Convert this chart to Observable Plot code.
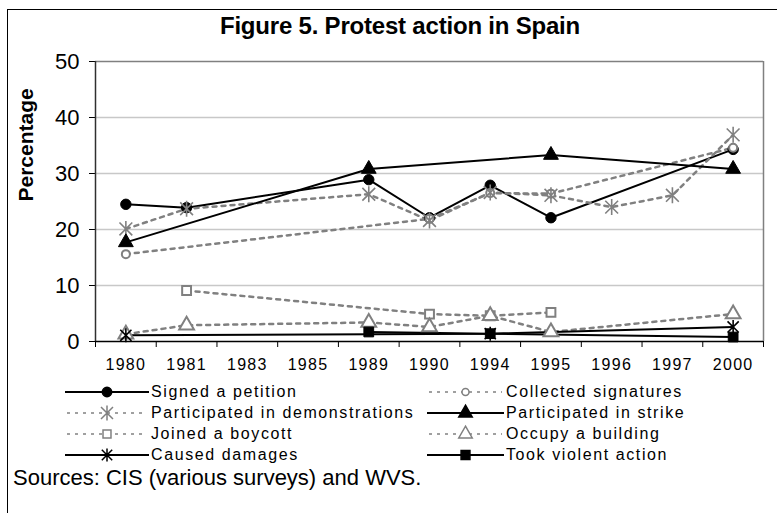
<!DOCTYPE html>
<html><head><meta charset="utf-8">
<script src="https://cdn.jsdelivr.net/npm/d3@7"></script>
<script src="https://cdn.jsdelivr.net/npm/@observablehq/plot@0.6"></script>
<style>
body{margin:0;background:#fff;font-family:"Liberation Sans",Arial,sans-serif;}
#wrap{position:relative;width:777px;height:513px;overflow:hidden;background:#fff;}
#frame{position:absolute;left:7px;top:9px;width:820px;height:620px;border:1px solid #000;box-sizing:border-box;}
#title{position:absolute;left:0;width:800px;top:12px;text-align:center;font-weight:bold;font-size:24px;letter-spacing:-0.2px;}
#chart{position:absolute;left:0;top:0;}
.leg{position:absolute;height:20px;display:flex;align-items:center;font-size:16px;letter-spacing:1.6px;white-space:nowrap;}
.leg svg{display:block;}
#source{position:absolute;left:13px;top:465px;font-size:22px;white-space:nowrap;}
</style></head><body>
<div id="wrap"><div id="frame"></div><div id="title">Figure 5. Protest action in Spain</div><div id="chart"></div><div id="legend"></div><div id="source">Sources: CIS (various surveys) and WVS.</div></div>
<script>
const years = ["1980","1981","1983","1985","1989","1990","1994","1995","1996","1997","2000"];
const yTicks = [0, 10, 20, 30, 40, 50];
const petition       = [24.5, 23.9, null, null, 28.9, 22.1, 27.9, 22.1, null, null, 34.3];
const signatures     = [15.6, null, null, null, null, 21.9, 26.5, 26.4, null, null, 34.6];
const demonstrations = [20.1, 23.7, null, null, 26.3, 21.6, 26.6, 26.1, 24.0, 26.1, 36.9];
const strike         = [17.7, null, null, null, 30.8, null, null, 33.3, null, null, 30.8];
const boycott        = [null, 9.1, null, null, null, 4.9, 4.6, 5.2, null, null, null];
const occupy         = [1.3, 2.9, null, null, 3.4, 2.6, 4.6, 1.7, null, null, 4.9];
const damages        = [1.1, null, null, null, null, null, 1.4, null, null, null, 2.6];
const violent        = [null, null, null, null, 1.7, null, 1.4, null, null, null, 0.8];
const seriesNames = ["Signed a petition","Collected signatures","Participated in demonstrations","Participated in strike","Joined a boycott","Occupy a building","Caused damages","Took violent action"];

const GRAY = "#808080", BLACK = "#000";
const star = {draw(ctx, size){ const r = Math.sqrt(size/Math.PI); const d = r*0.8;
  ctx.moveTo(0,-r); ctx.lineTo(0,r); ctx.moveTo(-d,-d); ctx.lineTo(d,d); ctx.moveTo(d,-d); ctx.lineTo(-d,d);} };

const styles = [
  {values: petition, dashed:false, color:BLACK, symbol:"circle", filled:true, r:5.2},
  {values: signatures, dashed:true, color:GRAY, symbol:"circle", filled:false, r:4},
  {values: demonstrations, dashed:true, color:GRAY, symbol:star, filled:false, r:8},
  {values: strike, dashed:false, color:BLACK, symbol:"triangle", filled:true, r:5.5},
  {values: boycott, dashed:true, color:GRAY, symbol:"square", filled:false, r:5},
  {values: occupy, dashed:true, color:GRAY, symbol:"triangle", filled:false, r:5.5},
  {values: damages, dashed:false, color:BLACK, symbol:star, filled:false, r:7},
  {values: violent, dashed:false, color:BLACK, symbol:"square", filled:true, r:5.5}
];

const marks = [
  Plot.gridY([10,20,30,40], {stroke:"#c8c8c8", strokeOpacity:1, strokeWidth:1.5}),
  Plot.ruleY([50], {stroke:"#808080", strokeWidth:1.5}),
  Plot.ruleX([10.5], {stroke:"#808080", strokeWidth:1.5}),
  Plot.axisY({ticks:yTicks, tickSize:6, tickPadding:10, fontSize:22, label:null, stroke:"#000"}),
  Plot.axisX({ticks:d3.range(12).map(i => i - 0.5), tickFormat:() => "", tickSize:6, label:null, stroke:"#000"}),
  Plot.axisX({ticks:d3.range(years.length), tickFormat:i => years[i], tickSize:0, tickPadding:17, fontSize:16, label:null}),
  Plot.ruleX([-0.5], {stroke:"#303030", strokeWidth:1.5}),
  Plot.ruleY([0], {stroke:"#000", strokeWidth:1.5}),
  Plot.text(["Percentage"], {frameAnchor:"left", rotate:-90, dx:-69, fontWeight:"bold", fontSize:21})
];
for (const s of styles) {
  const pts = s.values.map((v,i) => ({i, v})).filter(d => d.v != null);
  marks.push(Plot.line(pts, {x:"i", y:"v", stroke:s.color, strokeWidth:s.dashed ? 2.5 : 2,
    strokeDasharray: s.dashed ? "4,5" : null}));
}
for (const s of styles) {
  const pts = s.values.map((v,i) => ({i, v})).filter(d => d.v != null);
  marks.push(Plot.dot(pts, {x:"i", y:"v", symbol:s.symbol, r:s.r,
    fill: s.filled ? s.color : (s.symbol === star ? "none" : "#fff"),
    stroke:s.color, strokeWidth: s.symbol === star ? 1.6 : (s.filled ? 1 : 2)}));
}

const chart = Plot.plot({
  width:777, height:390, marginLeft:95, marginRight:14, marginTop:61, marginBottom:49,
  x:{domain:[-0.5, 10.5]},
  y:{domain:[0, 50]},
  style:{fontFamily:"Liberation Sans, Arial, sans-serif", background:"transparent", color:"#000"},
  marks
});
d3.select(chart).selectAll('[aria-label="x-axis tick label"] text').style("letter-spacing","1.3px");
document.getElementById("chart").appendChild(chart);

// legend
const leg = document.getElementById("legend");
const rowsY = [382, 403, 424, 445];
styles.forEach((s, k) => {
  const col = k % 2, row = Math.floor(k/2);
  const sx = col === 0 ? 65 : 427, w = col === 0 ? 84 : 77;
  const div = document.createElement("div");
  div.className = "leg";
  div.style.left = sx + "px"; div.style.top = rowsY[row] + "px";
  const svg = d3.create("svg").attr("width", w).attr("height", 20);
  const line = svg.append("line").attr("x1", s.dashed ? 2 : 0).attr("x2", s.dashed ? w-2 : w).attr("y1",10).attr("y2",10)
    .attr("stroke", s.dashed ? "#a0a0a0" : "#000").attr("stroke-width", 2);
  if (s.dashed) line.attr("stroke-dasharray","3,5");
  const sz = (s.r-0.5)*(s.r-0.5)*Math.PI;
  const sym = typeof s.symbol === "string" ? {circle:d3.symbolCircle, triangle:d3.symbolTriangle, square:d3.symbolSquare}[s.symbol] : s.symbol;
  svg.append("path").attr("transform", `translate(${w/2},10)`).attr("d", d3.symbol(sym, sz)())
    .attr("fill", s.filled ? s.color : (s.symbol === star ? "none" : "#fff"))
    .attr("stroke", s.color).attr("stroke-width", 1.5);
  div.appendChild(svg.node());
  const t = document.createElement("span"); t.textContent = seriesNames[k]; t.style.marginLeft = "2px";
  div.appendChild(t);
  leg.appendChild(div);
});
</script>
</body></html>
